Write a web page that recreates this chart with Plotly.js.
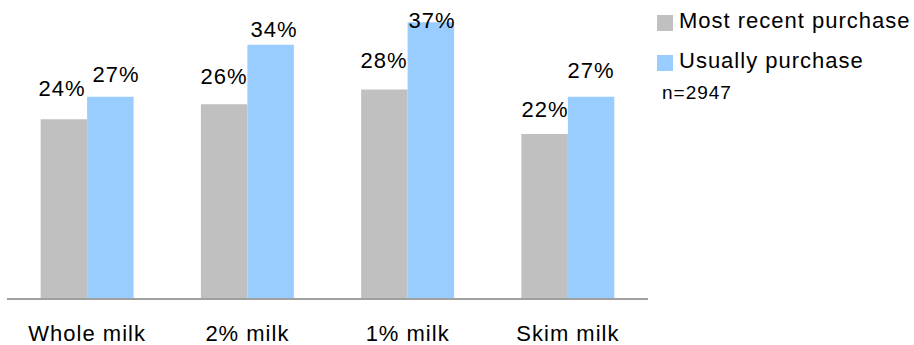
<!DOCTYPE html>
<html>
<head>
<meta charset="utf-8">
<script src="https://cdn.plot.ly/plotly-3.0.1.min.js"></script>
<style>
  html, body { margin: 0; padding: 0; background: #fff; }
  #chart { width: 914px; height: 345px; }
  /* slightly tracked lettering throughout */
  #chart svg text { letter-spacing: 1px; }
</style>
</head>
<body>
<div id="chart"></div>
<script>
// Milk types
const categories = ['Whole milk', '2% milk', '1% milk', 'Skim milk'];
// Share of respondents (%)
const mostRecent = [24, 26, 28, 22];
const usually = [27, 34, 37, 27];
const seriesNames = ['Most recent purchase', 'Usually purchase'];
const sampleNote = 'n=2947';

// label placement: gap (px) between bar top and label, and small horizontal nudges
const recentLabelGap = [23, 20, 21, 17];
const usuallyLabelGap = [15, 8, -6, 19];
const recentLabelNudge = [-2, 0, 0, 0];
const usuallyLabelNudge = [6, 3, 1, 0];

const GRAY = '#C0C0C0';
const BLUE = '#99CCFF';
const COLORS = [GRAY, BLUE];
const FONT = 'Liberation Sans, Arial, sans-serif';
const BARGAP = 0.42;

// plot-area geometry in pixels, used to place the side key
const W = 914, H = 345;
const M = { l: 7, r: 266, t: 0, b: 47 };
const PW = W - M.l - M.r, PH = H - M.t - M.b;
const px = x => (x - M.l) / PW;
const py = y => (M.t + PH - y) / PH;

const xs = categories.map((_, i) => i);

const traces = [
  {
    type: 'bar', name: seriesNames[0], x: xs, y: mostRecent,
    marker: { color: GRAY, line: { width: 0 } }, hoverinfo: 'skip'
  },
  {
    type: 'bar', name: seriesNames[1], x: xs, y: usually,
    marker: { color: BLUE, line: { width: 0 } }, hoverinfo: 'skip'
  }
];

// value labels above each bar, anchored to the bar's own value
const half = (1 - BARGAP) / 4;
const annotations = [];
const BASE_SHIFT = -7;
const labelFont = { family: FONT, size: 22, color: '#000' };
mostRecent.forEach((v, i) => annotations.push({
  x: i - half, y: v, xref: 'x', yref: 'y', text: v + '%', showarrow: false,
  xanchor: 'center', yanchor: 'bottom', yshift: recentLabelGap[i] + BASE_SHIFT,
  xshift: recentLabelNudge[i], font: labelFont
}));
usually.forEach((v, i) => annotations.push({
  x: i + half, y: v, xref: 'x', yref: 'y', text: v + '%', showarrow: false,
  xanchor: 'center', yanchor: 'bottom', yshift: usuallyLabelGap[i] + BASE_SHIFT,
  xshift: usuallyLabelNudge[i], font: labelFont
}));

// side key: swatches and series names
const shapes = [];
const keyRows = [23, 63];
seriesNames.forEach((name, k) => {
  const cy = keyRows[k];
  shapes.push({
    type: 'rect', xref: 'paper', yref: 'paper',
    x0: px(657), x1: px(673), y0: py(cy + 8), y1: py(cy - 8),
    fillcolor: COLORS[k], line: { width: 0 }
  });
  annotations.push({
    x: px(677), y: py(cy - 2), xref: 'paper', yref: 'paper', text: name,
    showarrow: false, xanchor: 'left', yanchor: 'middle', align: 'left',
    font: labelFont
  });
});
annotations.push({
  x: px(660), y: py(80), xref: 'paper', yref: 'paper',
  text: sampleNote, showarrow: false, xanchor: 'left', yanchor: 'top', align: 'left',
  font: { family: FONT, size: 19, color: '#000' }
});

const layout = {
  width: W, height: H,
  margin: { l: M.l, r: M.r, t: M.t, b: M.b, pad: 0 },
  paper_bgcolor: '#fff', plot_bgcolor: '#fff',
  barmode: 'group', bargap: BARGAP, bargroupgap: 0,
  font: { family: FONT, size: 22, color: '#000' },
  showlegend: false,
  xaxis: {
    range: [-0.5, 3.5], tickvals: xs, ticktext: categories,
    showgrid: false, zeroline: false, ticks: '',
    showline: true, linecolor: '#A0A0A0', linewidth: 1.5,
    tickfont: { family: FONT, size: 22, color: '#000' },
    ticklabelstandoff: 15, fixedrange: true
  },
  yaxis: {
    range: [0, 40], showgrid: false, zeroline: false,
    showticklabels: false, ticks: '', showline: false, fixedrange: true
  },
  shapes: shapes,
  annotations: annotations
};

Plotly.newPlot('chart', traces, layout, { displayModeBar: false, staticPlot: true });
</script>
</body>
</html>
